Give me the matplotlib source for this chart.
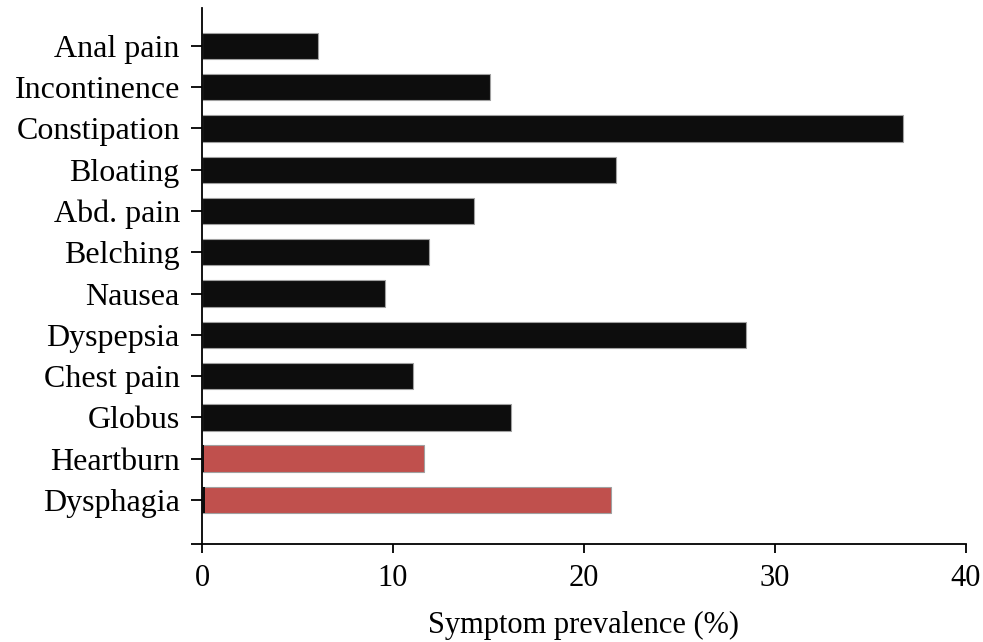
import numpy as np
import matplotlib
matplotlib.use('Agg')
import matplotlib.pyplot as plt

plt.rcParams['font.family'] = ['Liberation Serif', 'DejaVu Serif']

# symptoms listed bottom to top
symptoms = ['Dysphagia', 'Heartburn', 'Globus', 'Chest pain', 'Dyspepsia', 'Nausea',
            'Belching', 'Abd. pain', 'Bloating', 'Constipation', 'Incontinence', 'Anal pain']
prevalence = [21.4, 11.6, 16.2, 11.05, 28.5, 9.6, 11.9, 14.25, 21.7, 36.7, 15.1, 6.05]
# small dark lead-in segment on the first two bars
lead = [0.15, 0.1, 0, 0, 0, 0, 0, 0, 0, 0, 0, 0]
colors = ['#c0504d', '#c0504d'] + ['#0d0d0d'] * 10

fig = plt.figure(figsize=(9.83, 6.42), dpi=100)
ax = fig.add_axes([0.2055, 0.1526, 0.777, 0.835])

y = np.arange(len(symptoms))
ax.barh(y, prevalence, height=0.64, color=colors, edgecolor='#a0a0a0', linewidth=0.8, zorder=2)
ax.barh(y, lead, height=0.64, color='#0d0d0d', linewidth=0, zorder=3)

ax.set_xlim(0, 40)
ax.set_ylim(-1.07, 11.92)
ax.set_xticks([0, 10, 20, 30, 40])
ax.set_yticks(list(y) + [-1.07])
ax.set_yticklabels(symptoms + [''])
ax.tick_params(axis='y', length=8, width=1.3, labelsize=23, pad=8)
ax.tick_params(axis='x', length=6.5, width=1.3, labelsize=22, pad=8)
ax.set_xlabel('Symptom prevalence (%)', fontsize=22, labelpad=13)

for s in ['top', 'right']:
    ax.spines[s].set_visible(False)
for s in ['left', 'bottom']:
    ax.spines[s].set_linewidth(1.3)

fig.savefig('out.png', dpi=100)
